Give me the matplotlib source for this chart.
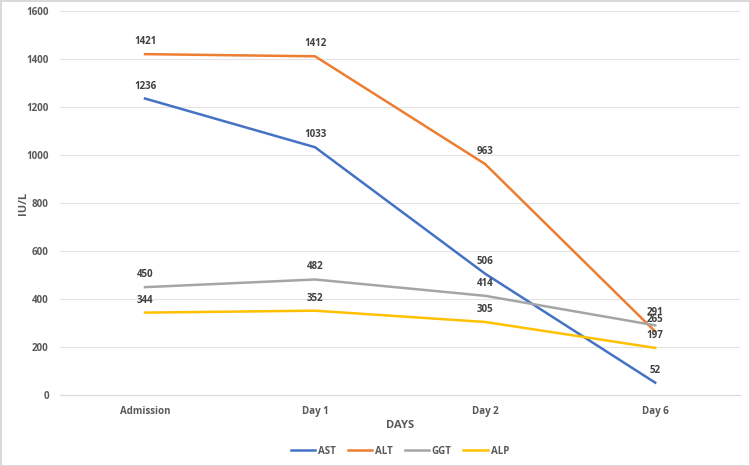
import matplotlib.pyplot as plt

days = ["Admission", "Day 1", "Day 2", "Day 6"]
ast = [1236, 1033, 506, 52]
alt = [1421, 1412, 963, 265]
ggt = [450, 482, 414, 291]
alp = [344, 352, 305, 197]

series = [
    ("AST", ast, "#4472C4"),
    ("ALT", alt, "#ED7D31"),
    ("GGT", ggt, "#A5A5A5"),
    ("ALP", alp, "#FFC000"),
]

plt.rcParams["font.family"] = ["Open Sans", "DejaVu Sans"]

fig = plt.figure(figsize=(7.5, 4.66), dpi=100)
fig.patch.set_edgecolor("#d9d9d9")
fig.patch.set_linewidth(1)
ax = fig.add_axes([0.08, 0.152, 0.907, 0.824])

x = list(range(len(days)))
for name, vals, color in series:
    ax.plot(x, vals, color=color, linewidth=1.8, label=name)
    for xi, v in zip(x, vals):
        ax.annotate(str(v), (xi, v), xytext=(0, 9), textcoords="offset points",
                    ha="center", va="center", fontsize=7, fontweight="bold",
                    color="#404040")

ax.set_xlim(-0.5, len(days) - 0.5)
ax.set_ylim(0, 1600)
ax.set_yticks(range(0, 1601, 200))
ax.set_xticks(x)
ax.set_xticklabels(days)
ax.grid(axis="y", color="#e3e3e3", linewidth=0.8)
ax.set_axisbelow(True)
for s in ["top", "right", "left"]:
    ax.spines[s].set_visible(False)
ax.spines["bottom"].set_color("#d9d9d9")
ax.tick_params(axis="both", length=0, labelsize=7, labelcolor="#595959", pad=8)
for lbl in ax.get_xticklabels() + ax.get_yticklabels():
    lbl.set_fontweight("bold")

ax.set_xlabel("DAYS", fontsize=8, fontweight="bold", color="#595959", labelpad=2)
ax.set_ylabel("IU/L", fontsize=8, fontweight="bold", color="#595959", labelpad=-2)

ax.legend(loc="center", bbox_to_anchor=(0.5, -0.146), ncol=4, frameon=False,
          prop={"weight": "bold", "size": 7}, handlelength=2.5,
          handletextpad=0.3, columnspacing=1.2, labelcolor="#595959")

fig.savefig("out.png", dpi=100)
